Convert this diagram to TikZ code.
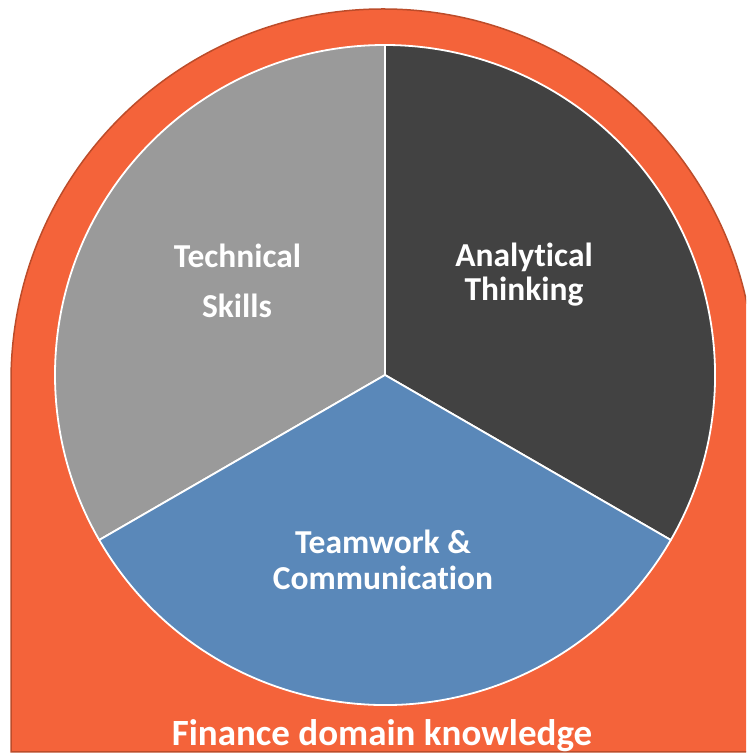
\documentclass[tikz,border=0pt]{standalone}
\usepackage{fontspec}
\setmainfont{Carlito}[Ligatures={NoCommon,NoContextual}]
\usetikzlibrary{calc}

\definecolor{archorange}{HTML}{F4633A}
\definecolor{archedge}{HTML}{BC4C2A}
\definecolor{techgray}{HTML}{9A9A9A}
\definecolor{analyticdark}{HTML}{424242}
\definecolor{teamblue}{HTML}{5A88B9}

\begin{document}
\begin{tikzpicture}[x=1pt, y=1pt,
    slice/.style={draw=white, line width=1.8pt, line join=round},
    label/.style={text=white, font=\fontsize{33.5}{37}\selectfont\bfseries, inner sep=0pt, anchor=base}]
        \useasboundingbox (0,0) rectangle (746,754);
        \clip (0,0) rectangle (746,754);
        
        \coordinate (O) at (383,373);
        \coordinate (C) at (385,379);
        
        \draw[fill=archorange, draw=archedge, line width=1.5pt] (11,2) -- (11,373) arc[start angle=180, end angle=0, radius=372] -- (755,2) -- cycle;
        
        \draw[slice, fill=techgray] (C) -- ++(90:330) arc[start angle=90, end angle=210, radius=330] -- cycle;
        \draw[slice, fill=analyticdark] (C) -- ++(-30:330) arc[start angle=-30, end angle=90, radius=330] -- cycle;
        \draw[slice, fill=teamblue] (C) -- ++(210:330) arc[start angle=210, end angle=330, radius=330] -- cycle;
        
        \node[label] (technical) at (237.5,486) {Technical};
        \node[label] (skills) at (237,436) {Skills};
        \node[label] (analytical) at (524,487) {Analytical};
        \node[label] (thinking) at (524,453) {Thinking};
        \node[label] (teamwork) at (383,200) {Teamwork \&};
        \node[label] (communication) at (383,164) {Communication};
        \node[label, font=\fontsize{37}{40}\selectfont\bfseries] (finance) at (382,9) {Finance domain knowledge};
    \end{tikzpicture}
\end{document}
